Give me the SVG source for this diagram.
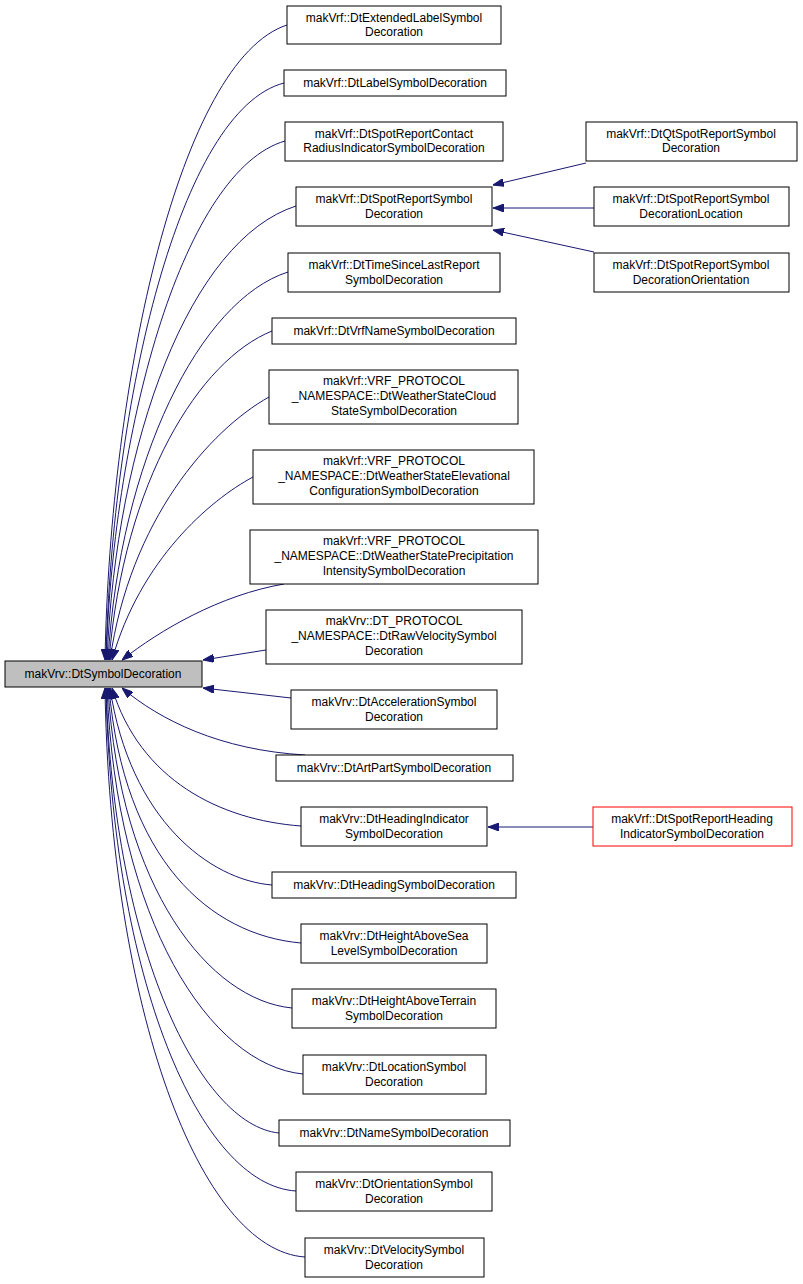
<svg xmlns="http://www.w3.org/2000/svg" width="803" height="1284" viewBox="0 0 803 1284">
<style>
rect{fill:#fff;stroke:#000;stroke-width:1}
text{font-family:"Liberation Sans",Arial,sans-serif;font-size:12px;text-anchor:middle}
.e path{fill:none;stroke:#191970;stroke-width:1;marker-start:url(#a)}
</style>
<defs><marker id="a" viewBox="0 0 11 8" refX="11" refY="4" markerWidth="11" markerHeight="8" markerUnits="userSpaceOnUse" orient="auto-start-reverse"><path d="M0,0L11,4L0,8z" fill="#191970" stroke="#191970"/></marker></defs>
<rect x="0" y="0" width="803" height="1284" style="stroke:none"/>
<g class="e">
<path d="M105,660 C110,380 180,60 287,25"/>
<path d="M106,660 C112,400 180,110 284,83"/>
<path d="M106,660 C114,420 185,170 285,141"/>
<path d="M107,660 C116,440 190,240 296,206"/>
<path d="M108,660 C120,460 200,300 288,272"/>
<path d="M109,660 C124,480 200,360 272,331"/>
<path d="M110,660 C130,520 210,430 269,397"/>
<path d="M112,660 C140,560 210,500 253,477"/>
<path d="M122,660 C160,630 220,595 284,584"/>
<path d="M203,660 L266,650"/>
<path d="M203,688 L291,698"/>
<path d="M122,688 C160,720 220,750 305,755"/>
<path d="M112,688 C140,780 220,820 301,826"/>
<path d="M110,688 C130,820 210,880 272,885"/>
<path d="M109,688 C124,860 210,935 301,943"/>
<path d="M108,688 C120,890 210,1000 292,1008"/>
<path d="M107,688 C116,920 210,1065 303,1074"/>
<path d="M106,688 C114,950 200,1125 279,1133"/>
<path d="M106,688 C112,980 200,1185 296,1191"/>
<path d="M105,688 C110,1010 200,1250 305,1257"/>
<path d="M493,185 L586,163"/>
<path d="M493,208 L594,208"/>
<path d="M493,230 L594,252"/>
<path d="M488,827 L593,827"/>
</g>
<g id="root"><rect x="5" y="661" width="197" height="26" style="fill:#bfbfbf"/><text x="103" y="678">makVrv::DtSymbolDecoration</text></g>
<g id="n1"><rect x="287" y="6" width="214" height="38"/><text x="394" y="22">makVrf::DtExtendedLabelSymbol</text><text x="394" y="36">Decoration</text></g>
<g id="n2"><rect x="284" y="70" width="222" height="26"/><text x="395" y="87">makVrf::DtLabelSymbolDecoration</text></g>
<g id="n3"><rect x="285" y="122" width="218" height="39"/><text x="394" y="138">makVrf::DtSpotReportContact</text><text x="394" y="152">RadiusIndicatorSymbolDecoration</text></g>
<g id="n4"><rect x="296" y="187" width="196" height="39"/><text x="394" y="203">makVrf::DtSpotReportSymbol</text><text x="394" y="218">Decoration</text></g>
<g id="n5"><rect x="288" y="253" width="212" height="39"/><text x="394" y="269">makVrf::DtTimeSinceLastReport</text><text x="394" y="284">SymbolDecoration</text></g>
<g id="n6"><rect x="272" y="318" width="244" height="26"/><text x="394" y="335">makVrf::DtVrfNameSymbolDecoration</text></g>
<g id="n7"><rect x="269" y="370" width="249" height="54"/><text x="394" y="385">makVrf::VRF_PROTOCOL</text><text x="394" y="400">_NAMESPACE::DtWeatherStateCloud</text><text x="394" y="415">StateSymbolDecoration</text></g>
<g id="n8"><rect x="253" y="450" width="281" height="54"/><text x="394" y="465">makVrf::VRF_PROTOCOL</text><text x="394" y="480">_NAMESPACE::DtWeatherStateElevational</text><text x="394" y="495">ConfigurationSymbolDecoration</text></g>
<g id="n9"><rect x="250" y="530" width="288" height="54"/><text x="394" y="545">makVrf::VRF_PROTOCOL</text><text x="394" y="560">_NAMESPACE::DtWeatherStatePrecipitation</text><text x="394" y="575">IntensitySymbolDecoration</text></g>
<g id="n10"><rect x="266" y="610" width="256" height="54"/><text x="394" y="625">makVrv::DT_PROTOCOL</text><text x="394" y="640">_NAMESPACE::DtRawVelocitySymbol</text><text x="394" y="655">Decoration</text></g>
<g id="n11"><rect x="291" y="690" width="206" height="39"/><text x="394" y="706">makVrv::DtAccelerationSymbol</text><text x="394" y="721">Decoration</text></g>
<g id="n12"><rect x="276" y="755" width="237" height="26"/><text x="394" y="772">makVrv::DtArtPartSymbolDecoration</text></g>
<g id="n13"><rect x="301" y="807" width="186" height="39"/><text x="394" y="823">makVrv::DtHeadingIndicator</text><text x="394" y="838">SymbolDecoration</text></g>
<g id="n14"><rect x="272" y="872" width="244" height="26"/><text x="394" y="889">makVrv::DtHeadingSymbolDecoration</text></g>
<g id="n15"><rect x="301" y="924" width="186" height="39"/><text x="394" y="940">makVrv::DtHeightAboveSea</text><text x="394" y="955">LevelSymbolDecoration</text></g>
<g id="n16"><rect x="292" y="989" width="204" height="39"/><text x="394" y="1005">makVrv::DtHeightAboveTerrain</text><text x="394" y="1020">SymbolDecoration</text></g>
<g id="n17"><rect x="303" y="1055" width="183" height="39"/><text x="394" y="1071">makVrv::DtLocationSymbol</text><text x="394" y="1086">Decoration</text></g>
<g id="n18"><rect x="279" y="1120" width="231" height="26"/><text x="394" y="1137">makVrv::DtNameSymbolDecoration</text></g>
<g id="n19"><rect x="296" y="1172" width="196" height="39"/><text x="394" y="1188">makVrv::DtOrientationSymbol</text><text x="394" y="1203">Decoration</text></g>
<g id="n20"><rect x="305" y="1238" width="179" height="39"/><text x="394" y="1254">makVrv::DtVelocitySymbol</text><text x="394" y="1269">Decoration</text></g>
<g id="r1"><rect x="586" y="122" width="211" height="39"/><text x="691" y="138">makVrf::DtQtSpotReportSymbol</text><text x="691" y="152">Decoration</text></g>
<g id="r2"><rect x="594" y="187" width="195" height="39"/><text x="691" y="203">makVrf::DtSpotReportSymbol</text><text x="691" y="218">DecorationLocation</text></g>
<g id="r3"><rect x="594" y="253" width="195" height="39"/><text x="691" y="269">makVrf::DtSpotReportSymbol</text><text x="691" y="284">DecorationOrientation</text></g>
<g id="r4"><rect x="593" y="807" width="199" height="39" style="stroke:#f00"/><text x="692" y="823">makVrf::DtSpotReportHeading</text><text x="692" y="838">IndicatorSymbolDecoration</text></g>
</svg>
